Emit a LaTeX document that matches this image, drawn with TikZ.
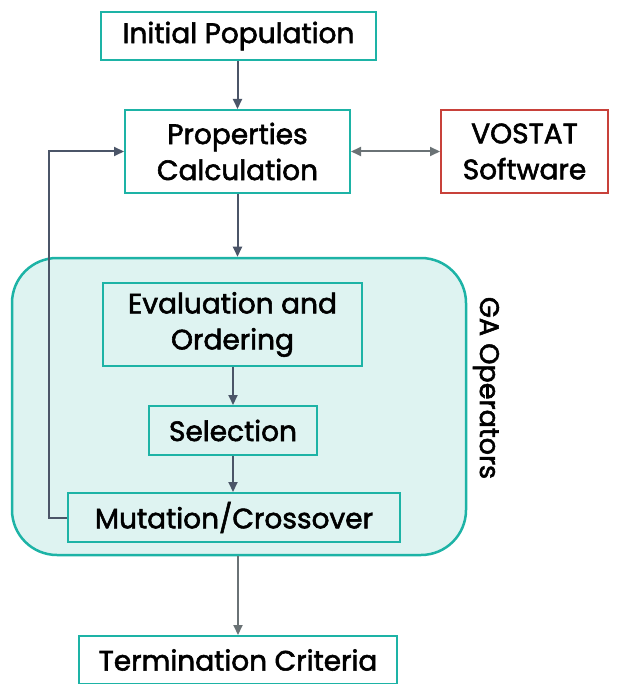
\documentclass[tikz,border=0pt]{standalone}
\usepackage{fontspec}
\setmainfont{Poppins}
\newfontfamily\labelfont{Poppins}[FakeBold=2]
\usetikzlibrary{arrows.meta,calc}
\definecolor{tealline}{HTML}{1DB3A6}
\definecolor{tealfill}{HTML}{DEF3F1}
\definecolor{redline}{HTML}{C8413A}
\definecolor{flowdark}{HTML}{4B5568}
\definecolor{flowgray}{HTML}{6A7275}
\begin{document}
\begin{tikzpicture}[x=1pt,y=-1pt,
  box/.style={draw=tealline,line width=2pt,fill=white,align=center,
    inner sep=0pt,font=\labelfont\fontsize{28}{36}\selectfont},
  inbox/.style={box,fill=tealfill},
  flow/.style={draw=flowdark,line width=2pt,-{Triangle[length=10pt,width=9pt]}},
  flowg/.style={draw=flowgray,line width=2pt,-{Triangle[length=10pt,width=9pt]}},
]
\useasboundingbox (0,0) rectangle (622,684);

% group of genetic-algorithm operators
\node[draw=tealline,fill=tealfill,line width=2.5pt,rounded corners=45pt,
  minimum width=454pt,minimum height=297pt,inner sep=0pt] (ga) at (239,406.5) {};
\node[rotate=-90,font=\labelfont\fontsize{27}{30}\selectfont] (galabel) at (486,388) {GA Operators};

\node[box,minimum width=275pt,minimum height=48pt] (init) at (238.5,36) {Initial Population};
\node[box,minimum width=225pt,minimum height=83pt] (prop) at (237.5,151.5) {Properties\\Calculation};
\node[box,draw=redline,minimum width=167pt,minimum height=83pt] (vostat) at (524.5,151.5) {VOSTAT\\Software};
\node[inbox,minimum width=259pt,minimum height=83pt] (eval) at (232.5,324.5) {Evaluation and\\Ordering};
\node[inbox,minimum width=168pt,minimum height=49pt] (sel) at (233,430.5) {Selection};
\node[inbox,minimum width=332pt,minimum height=49pt] (mut) at (234,517.5) {Mutation/Crossover};
\node[box,minimum width=318pt,minimum height=48pt] (term) at (238,660) {Termination Criteria};

\draw[flow] (init.south -| prop.north) -- (prop.north);
\draw[flow] (prop.south) -- (prop.south |- ga.north);
\draw[flowg,{Triangle[length=10pt,width=9pt]}-{Triangle[length=10pt,width=9pt]}] (prop.east) -- (vostat.west);
\draw[flow] (sel.north |- eval.south) -- (sel.north);
\draw[flow] (sel.south) -- (sel.south |- mut.north);
\draw[flowg] (term.north |- ga.south) -- (term.north);
\draw[flow] (mut.west) -- ++(-18,0) |- (prop.west);
\end{tikzpicture}
\end{document}
